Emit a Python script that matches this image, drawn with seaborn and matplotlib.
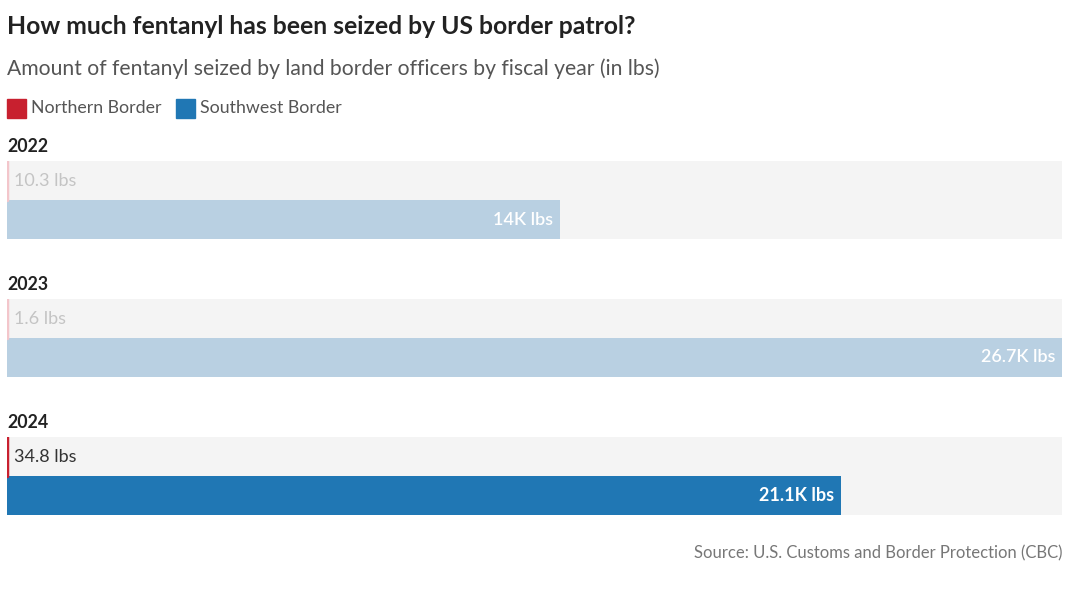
import matplotlib
matplotlib.use("Agg")
import matplotlib.pyplot as plt
import seaborn as sns
import pandas as pd
from matplotlib.patches import Rectangle

years = ["2022", "2023", "2024"]
borders = ["Northern Border", "Southwest Border"]
northern = [10.3, 1.6, 34.8]
southwest = [14000, 26700, 21100]
north_labels = ["10.3 lbs", "1.6 lbs", "34.8 lbs"]
south_labels = ["14K lbs", "26.7K lbs", "21.1K lbs"]
highlight = [False, False, True]

sns.set_theme(style="white")
plt.rcParams["font.family"] = ["Lato", "DejaVu Sans"]

W, H = 1080, 596
fig = plt.figure(figsize=(W / 100, H / 100), dpi=100)

RED, BLUE = "#c8202f", "#2077b4"
RED_F, BLUE_F = "#f3c6cb", "#b9d0e2"
vmax = max(southwest)

fig.text(7 / W, 1 - 27 / H, "How much fentanyl has been seized by US border patrol?",
         fontsize=17.8, fontweight="bold", color="#222222", va="center", ha="left")
fig.text(7 / W, 1 - 69 / H, "Amount of fentanyl seized by land border officers by fiscal year (in lbs)",
         fontsize=15.2, color="#555555", va="center", ha="left")

# legend
for x0, col, lab in [(7, RED, borders[0]), (176, BLUE, borders[1])]:
    fig.patches.append(Rectangle((x0 / W, 1 - 118 / H), 19 / W, 19 / H,
                                 transform=fig.transFigure, color=col))
    fig.text((x0 + 24) / W, 1 - 108 / H, lab, fontsize=12.8, color="#555555",
             va="center", ha="left")

tops = [161, 299, 437]
for i, yr in enumerate(years):
    top = tops[i]
    ax = fig.add_axes([7 / W, 1 - (top + 78) / H, 1055 / W, 78 / H])
    ax.set_facecolor("#f4f4f4")
    df = pd.DataFrame({"border": borders, "value": [northern[i], southwest[i]]})
    cols = [RED, BLUE] if highlight[i] else [RED_F, BLUE_F]
    sns.barplot(data=df, x="value", y="border", hue="border", palette=cols,
                orient="h", width=1.0, legend=False, ax=ax, saturation=1,
                linewidth=0, edgecolor="none")
    ax.set_xlim(0, vmax)
    ax.set_ylim(1.5, -0.5)
    ax.set_xticks([])
    ax.set_yticks([])
    ax.set_xlabel("")
    ax.set_ylabel("")
    for s in ax.spines.values():
        s.set_visible(False)
    # make tiny northern bars visible as a thin line
    ax.axvline(0, ymin=0.5, ymax=1.0, color=cols[0], lw=2.5)
    ax.text(7 / 1055 * vmax, 0, north_labels[i], va="center", ha="left",
            fontsize=13, color="#333333" if highlight[i] else "#c4c4c4")
    ax.text(southwest[i] - 7 / 1055 * vmax, 1, south_labels[i], va="center", ha="right",
            fontsize=13, color="white", fontweight="bold" if highlight[i] else "semibold")
    fig.text(7 / W, 1 - (top - 15) / H, yr, fontsize=12.8, fontweight="bold",
             color="#222222", va="center", ha="left")

fig.text(1062 / W, 1 - 553 / H, "Source: U.S. Customs and Border Protection (CBC)",
         fontsize=12, color="#777777", va="center", ha="right")

fig.savefig("out.png", dpi=100, facecolor="white")
